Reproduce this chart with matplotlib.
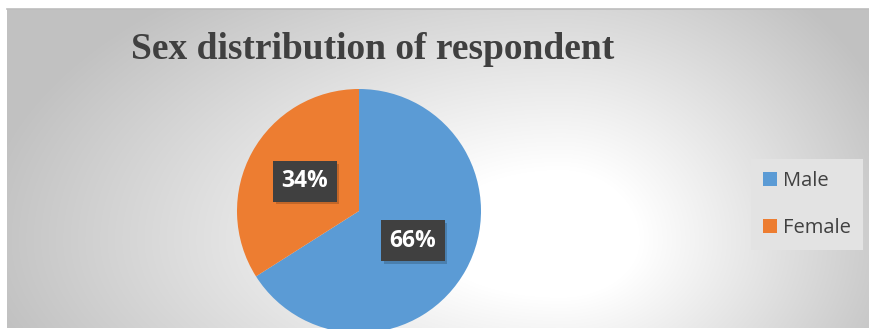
import numpy as np
import matplotlib
matplotlib.use("Agg")
import matplotlib.pyplot as plt
import matplotlib.patheffects as pe
from matplotlib.patches import Patch

categories = ["Male", "Female"]
values = [66, 34]
colors = ["#5B9BD5", "#ED7D31"]
title = "Sex distribution of respondent"

W, H = 869, 329
fig = plt.figure(figsize=(W / 100, H / 100), dpi=100)
fig.patch.set_facecolor("white")

# background gradient panel
bg = fig.add_axes([0, 0, 1, 1])
bg.set_xlim(0, W)
bg.set_ylim(H, 0)
bg.axis("off")
x0, y0, x1, y1 = 7, 9, W, 328
xs = np.arange(x0, x1)
ys = np.arange(y0, y1)
X, Y = np.meshgrid(xs, ys)
cx, cy = 560, 240
sx = np.where(X < cx, 580.0, 360.0)
sy = np.where(Y < cy, 320.0, 260.0)
t = np.sqrt(((X - cx) / sx) ** 2 + ((Y - cy) / sy) ** 2)
t = np.clip((t - 0.22) / 0.78, 0, 1)
g = 1.0 - (1.0 - 0.76) * t ** 1.0
img = np.dstack([g, g, g])
bg.imshow(img, extent=(x0, x1, y1, y0), aspect="auto", interpolation="bilinear", zorder=0)
bg.plot([x0, x1], [y0, y0], color="#bdbdbd", lw=1.2, zorder=1)
bg.set_xlim(0, W)
bg.set_ylim(H, 0)

# pie
pcx, pcy, r = 359, 211, 122
ax = fig.add_axes([(pcx - r) / W, (H - pcy - r) / H, 2 * r / W, 2 * r / H])
ax.set_facecolor("none")
wedges, texts, autotexts = ax.pie(
    values, colors=colors, startangle=90, counterclock=False,
    autopct=lambda p: f"{p:.0f}%", pctdistance=0.505, radius=1.0,
    wedgeprops=dict(linewidth=0),
    textprops=dict(color="white", fontsize=16.5, fontweight="bold", family="Open Sans"),
)
ax.set_xlim(-1, 1)
ax.set_ylim(-1, 1)
ax.set_aspect("auto")
for at in autotexts:
    at.set_bbox(dict(boxstyle="square,pad=0.36", facecolor="#404040", edgecolor="none",
                     linewidth=0))
    at.get_bbox_patch().set_path_effects([
        pe.SimplePatchShadow(offset=(2, -2), shadow_rgbFace="black", alpha=0.18),
        pe.Normal(),
    ])

# title
fig.text(373 / W, 1 - 59 / H, title, ha="center", va="baseline",
         fontsize=27, fontweight="bold", family="Liberation Serif", color="#404040")

# legend
handles = [Patch(facecolor=c, edgecolor="none") for c in colors]
leg = fig.legend(handles, categories, loc="center left",
                 bbox_to_anchor=(751 / W, 1 - 204.5 / H),
                 frameon=True, fancybox=False, facecolor="#e3e3e3", edgecolor="none",
                 framealpha=1, prop=dict(family="Open Sans", size=14.5),
                 handlelength=0.68, handleheight=0.68, handletextpad=0.3,
                 labelspacing=1.35, borderpad=0.6, borderaxespad=0)
for txt in leg.get_texts():
    txt.set_color("#404040")

fig.savefig("out.png", dpi=100)
